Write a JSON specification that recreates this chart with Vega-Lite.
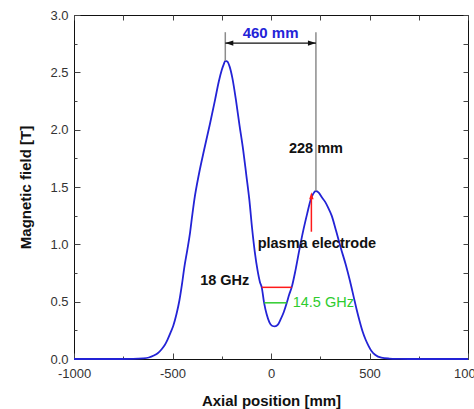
{
  "$schema": "https://vega.github.io/schema/vega-lite/v6.json",
  "width": 394,
  "height": 344,
  "autosize": {"type": "none"},
  "padding": {"left": 74, "top": 15, "right": 6, "bottom": 50},
  "background": "white",
  "config": {
    "view": {"stroke": "#111111", "strokeWidth": 1},
    "font": "Liberation Sans",
    "axis": {"domain": false, "grid": false, "labelFont": "Liberation Sans", "titleFont": "Liberation Sans", "tickColor": "#444444", "labelColor": "#333333", "labelFontSize": 13, "titleFontSize": 15, "titleFontWeight": "bold", "titleColor": "#111111"}
  },
  "resolve": {"axis": {"x": "independent", "y": "independent"}},
  "layer": [
    {
      "data": {"values": [
        {"x": -1000, "B": 0}, {"x": -800, "B": 0}, {"x": -700, "B": 0.001}, {"x": -650, "B": 0.005},
        {"x": -620, "B": 0.013}, {"x": -595, "B": 0.03}, {"x": -575, "B": 0.05}, {"x": -555, "B": 0.085},
        {"x": -540, "B": 0.12}, {"x": -525, "B": 0.17}, {"x": -510, "B": 0.23}, {"x": -496, "B": 0.29},
        {"x": -480, "B": 0.39}, {"x": -465, "B": 0.51}, {"x": -452, "B": 0.65}, {"x": -440, "B": 0.8},
        {"x": -425, "B": 0.95}, {"x": -411, "B": 1.1}, {"x": -400, "B": 1.25}, {"x": -389, "B": 1.39},
        {"x": -365, "B": 1.62}, {"x": -340, "B": 1.82}, {"x": -310, "B": 2.05}, {"x": -284, "B": 2.26},
        {"x": -265, "B": 2.42}, {"x": -250, "B": 2.52}, {"x": -240, "B": 2.57}, {"x": -232, "B": 2.6},
        {"x": -222, "B": 2.595}, {"x": -210, "B": 2.55}, {"x": -196, "B": 2.45}, {"x": -178, "B": 2.26},
        {"x": -160, "B": 2.04}, {"x": -141, "B": 1.82}, {"x": -125, "B": 1.6}, {"x": -110, "B": 1.39},
        {"x": -96, "B": 1.14}, {"x": -82, "B": 0.93}, {"x": -68, "B": 0.77}, {"x": -56, "B": 0.67},
        {"x": -47, "B": 0.625}, {"x": -35, "B": 0.49}, {"x": -22, "B": 0.39}, {"x": -8, "B": 0.32},
        {"x": 5, "B": 0.29}, {"x": 20, "B": 0.285}, {"x": 35, "B": 0.3}, {"x": 50, "B": 0.35},
        {"x": 65, "B": 0.41}, {"x": 80, "B": 0.49}, {"x": 92, "B": 0.56}, {"x": 105, "B": 0.625},
        {"x": 125, "B": 0.78}, {"x": 147, "B": 0.98}, {"x": 165, "B": 1.13}, {"x": 184, "B": 1.27},
        {"x": 200, "B": 1.38}, {"x": 214, "B": 1.44}, {"x": 228, "B": 1.465}, {"x": 242, "B": 1.45},
        {"x": 258, "B": 1.41}, {"x": 275, "B": 1.37}, {"x": 290, "B": 1.32}, {"x": 308, "B": 1.25},
        {"x": 330, "B": 1.12}, {"x": 354, "B": 0.97}, {"x": 380, "B": 0.82}, {"x": 401, "B": 0.68},
        {"x": 420, "B": 0.54}, {"x": 435, "B": 0.43}, {"x": 450, "B": 0.33}, {"x": 465, "B": 0.24},
        {"x": 480, "B": 0.17}, {"x": 495, "B": 0.115}, {"x": 510, "B": 0.07}, {"x": 530, "B": 0.035},
        {"x": 560, "B": 0.012}, {"x": 600, "B": 0.004}, {"x": 650, "B": 0.001}, {"x": 700, "B": 0},
        {"x": 1000, "B": 0}
      ]},
      "mark": {"type": "line", "color": "#2323d6", "strokeWidth": 1.8, "interpolate": "monotone"},
      "encoding": {
        "x": {"field": "x", "type": "quantitative", "scale": {"domain": [-1000, 1000], "nice": false},
          "axis": {"orient": "bottom", "title": "Axial position [mm]", "values": [-1000, -750, -500, -250, 0, 250, 500, 750, 1000],
            "labelExpr": "datum.value % 500 === 0 ? '' + datum.value : ''",
            "tickSize": {"condition": {"test": "datum.value % 500 === 0", "value": -6}, "value": -3},
            "labelPadding": 14, "titlePadding": 10, "labelFlush": false, "labelOverlap": false}},
        "y": {"field": "B", "type": "quantitative", "scale": {"domain": [0, 3], "nice": false},
          "axis": {"orient": "left", "title": "Magnetic field [T]", "values": [0, 0.25, 0.5, 0.75, 1, 1.25, 1.5, 1.75, 2, 2.25, 2.5, 2.75, 3],
            "labelExpr": "datum.value % 0.5 === 0 ? format(datum.value, '.1f') : ''",
            "tickSize": {"condition": {"test": "datum.value % 0.5 === 0", "value": -6}, "value": -3},
            "labelPadding": 12, "titlePadding": 16, "labelFlush": false, "labelOverlap": false}}
      }
    },
    {
      "data": {"values": [{"x": -232, "y": 2.85, "y2": 2.6}, {"x": 228, "y": 2.85, "y2": 1.465}]},
      "mark": {"type": "rule", "color": "#8c8c8c", "strokeWidth": 1.5},
      "encoding": {
        "x": {"field": "x", "type": "quantitative",
          "axis": {"orient": "top", "title": null, "labels": false, "values": [-1000, -750, -500, -250, 0, 250, 500, 750, 1000], "tickSize": -5}},
        "y": {"field": "y", "type": "quantitative",
          "axis": {"orient": "right", "title": null, "labels": false, "values": [0, 0.25, 0.5, 0.75, 1, 1.25, 1.5, 1.75, 2, 2.25, 2.5, 2.75, 3], "tickSize": -5}},
        "y2": {"field": "y2"}
      }
    },
    {
      "data": {"values": [{"x": -232, "x2": 228, "y": 2.755}]},
      "mark": {"type": "rule", "color": "#111111", "strokeWidth": 1.2},
      "encoding": {
        "x": {"field": "x", "type": "quantitative", "axis": null},
        "x2": {"field": "x2"},
        "y": {"field": "y", "type": "quantitative", "axis": null}
      }
    },
    {
      "data": {"values": [{"x": -232, "y": 2.755}]},
      "mark": {"type": "point", "shape": "M0,0L1,-0.32L1,0.32Z", "size": 256, "filled": true, "color": "#111111", "opacity": 1},
      "encoding": {
        "x": {"field": "x", "type": "quantitative", "axis": null},
        "y": {"field": "y", "type": "quantitative", "axis": null}
      }
    },
    {
      "data": {"values": [{"x": 228, "y": 2.755}]},
      "mark": {"type": "point", "shape": "M0,0L-1,-0.32L-1,0.32Z", "size": 256, "filled": true, "color": "#111111", "opacity": 1},
      "encoding": {
        "x": {"field": "x", "type": "quantitative", "axis": null},
        "y": {"field": "y", "type": "quantitative", "axis": null}
      }
    },
    {
      "data": {"values": [{"x": 205, "y": 1.11, "y2": 1.41}]},
      "mark": {"type": "rule", "color": "#ff1a1a", "strokeWidth": 1.5},
      "encoding": {
        "x": {"field": "x", "type": "quantitative", "axis": null},
        "y": {"field": "y", "type": "quantitative", "axis": null},
        "y2": {"field": "y2"}
      }
    },
    {
      "data": {"values": [{"x": 205, "y": 1.455}]},
      "mark": {"type": "point", "shape": "M0,0L-0.32,1L0.32,1Z", "size": 196, "filled": true, "color": "#ff1a1a", "opacity": 1},
      "encoding": {
        "x": {"field": "x", "type": "quantitative", "axis": null},
        "y": {"field": "y", "type": "quantitative", "axis": null}
      }
    },
    {
      "data": {"values": [{"x": -47, "x2": 105, "y": 0.625}]},
      "mark": {"type": "rule", "color": "#ff1a1a", "strokeWidth": 1.5},
      "encoding": {
        "x": {"field": "x", "type": "quantitative", "axis": null},
        "x2": {"field": "x2"},
        "y": {"field": "y", "type": "quantitative", "axis": null}
      }
    },
    {
      "data": {"values": [{"x": -35, "x2": 80, "y": 0.49}]},
      "mark": {"type": "rule", "color": "#2ecc2e", "strokeWidth": 1.5},
      "encoding": {
        "x": {"field": "x", "type": "quantitative", "axis": null},
        "x2": {"field": "x2"},
        "y": {"field": "y", "type": "quantitative", "axis": null}
      }
    },
    {
      "data": {"values": [{"x": -2, "y": 2.84, "t": "460 mm"}]},
      "mark": {"type": "text", "color": "#2424d8", "fontSize": 15, "fontWeight": "bold", "font": "Liberation Sans", "align": "center", "baseline": "middle"},
      "encoding": {
        "x": {"field": "x", "type": "quantitative", "axis": null},
        "y": {"field": "y", "type": "quantitative", "axis": null},
        "text": {"field": "t"}
      }
    },
    {
      "data": {"values": [
        {"x": 228, "y": 1.83, "t": "228 mm"},
        {"x": 233, "y": 1.0, "t": "plasma electrode"},
        {"x": -235, "y": 0.68, "t": "18 GHz"}
      ]},
      "mark": {"type": "text", "color": "#111111", "fontSize": 14.5, "fontWeight": "bold", "font": "Liberation Sans", "align": "center", "baseline": "middle"},
      "encoding": {
        "x": {"field": "x", "type": "quantitative", "axis": null},
        "y": {"field": "y", "type": "quantitative", "axis": null},
        "text": {"field": "t"}
      }
    },
    {
      "data": {"values": [{"x": 110, "y": 0.49, "t": "14.5 GHz"}]},
      "mark": {"type": "text", "color": "#2ecc2e", "fontSize": 14.5, "font": "Liberation Sans", "align": "left", "baseline": "middle"},
      "encoding": {
        "x": {"field": "x", "type": "quantitative", "axis": null},
        "y": {"field": "y", "type": "quantitative", "axis": null},
        "text": {"field": "t"}
      }
    }
  ]
}
